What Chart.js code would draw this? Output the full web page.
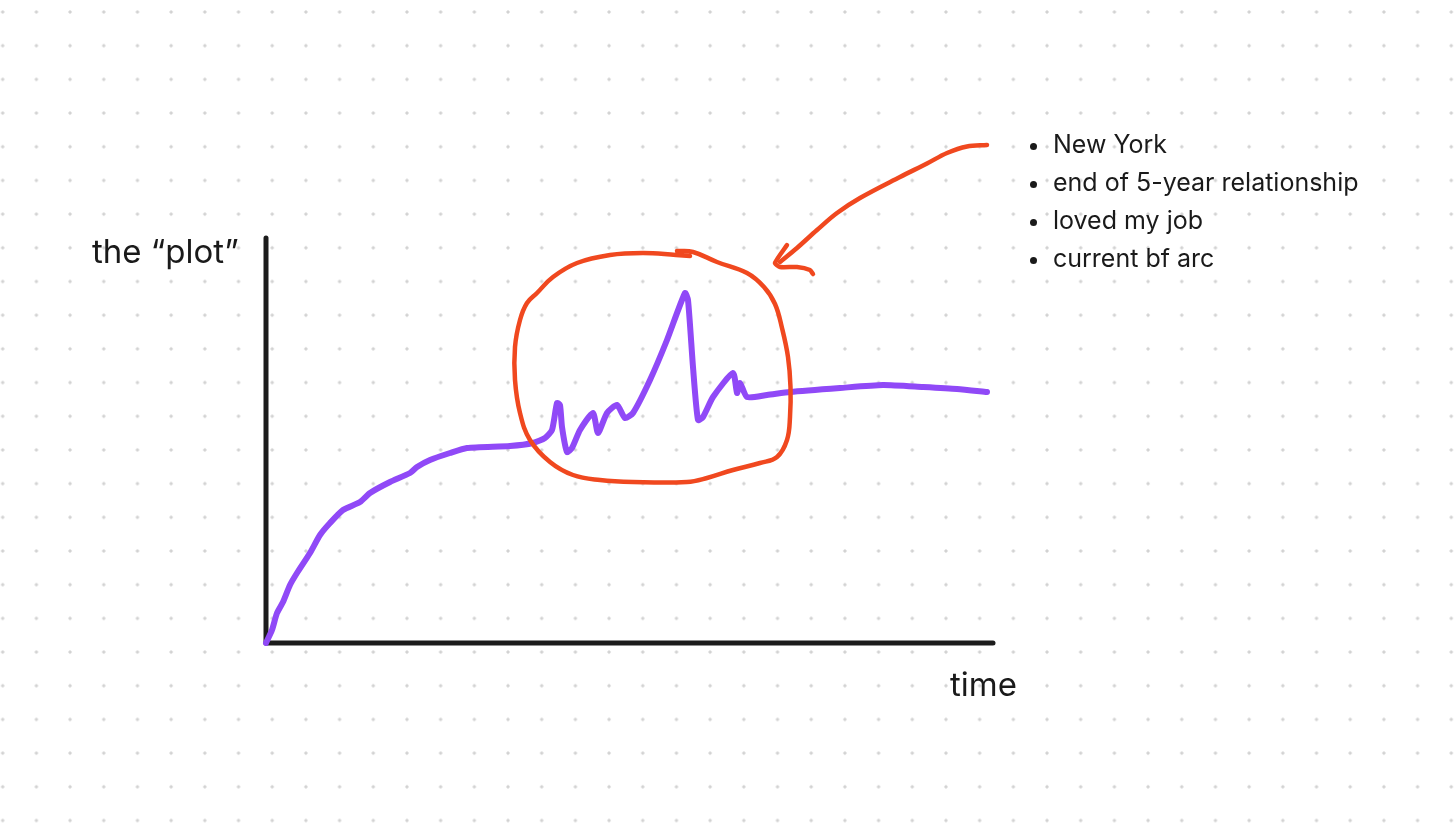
<!DOCTYPE html>
<html lang="en">
<head>
    <meta charset="UTF-8">
    <title>the plot</title>
    <script src="https://cdn.jsdelivr.net/npm/chart.js"></script>
    <style>
        body { margin: 0; background: #fff; }
        #wrap {
            position: relative;
            width: 1456px;
            height: 829px;
            background-color: #fff;
            background-image: radial-gradient(circle, #d2d2d2 1.3px, rgba(255,255,255,0) 1.9px);
            background-size: 33.7px 33.7px;
            background-position: -14.15px -4.85px;
            font-family: Inter, "Noto Sans", sans-serif;
            color: #1a1a1a;
        }
        canvas { position: absolute; left: 0; top: 0; }
        .lbl { position: absolute; white-space: nowrap; line-height: 1; }
        .yTitle { left: 92px; top: 235px; font-size: 33px; }
        .xTitle { left: 950px; top: 668px; font-size: 33px; }
        .note { left: 1053px; font-size: 25px; }
        .note::before {
            content: "";
            position: absolute;
            left: -23px;
            top: 11px;
            width: 7px;
            height: 7px;
            border-radius: 50%;
            background: #1a1a1a;
        }
    </style>
</head>
<body>
<div id="wrap">
    <canvas id="plotChart"></canvas>
    <div class="lbl yTitle">the “plot”</div>
    <div class="lbl xTitle">time</div>
    <div id="notes"></div>
</div>

<script>
    // life so far: time on x, "plot" on y (origin at the axes corner)
    const timeVals = [0, 0.6, 1.1, 1.7, 2.4, 3.1, 4.4, 5.4, 6.4, 7.7, 9.4, 10.4, 12.4, 14.4, 15.1, 16.4, 18.4, 20.1,
        24.4, 26.7, 27.9, 28.6, 29.1, 29.4, 29.6, 30.1, 30.6, 31.4, 32.7, 33.2, 34.1, 35.1, 35.9, 36.7,
        38.4, 40.1, 41.9, 42.2, 42.7, 43.2, 43.7, 44.7, 46.7, 47.1, 47.4, 48.1, 50.1, 52.4, 57.4, 61.7, 65.7, 69.1, 72.1];
    const plotVals = [0, 1.3, 3.0, 4.1, 5.8, 7.0, 9.0, 10.8, 12.0, 13.3, 14.1, 15.0, 16.1, 17.0, 17.6, 18.3, 19.0, 19.5,
        19.7, 20.0, 20.5, 21.3, 24.0, 23.8, 21.6, 19.1, 19.5, 21.3, 23.0, 21.0, 23.0, 23.8, 22.5, 23.0,
        26.3, 30.3, 35.0, 34.3, 27.6, 22.3, 22.6, 24.6, 27.0, 25.0, 26.0, 24.6, 24.8, 25.1, 25.5, 25.8, 25.6, 25.4, 25.1];

    // the red circle round the New York years
    const circleX = [41.1, 42.7, 45.1, 48.1, 49.8, 50.9, 51.6, 52.2, 52.45, 52.4, 52.1, 51.1, 49.4, 46.7, 44.1, 42.1,
        36.7, 33.4, 30.7, 28.4, 26.4, 25.4, 24.9, 24.9, 25.4, 26.1, 27.1, 28.7, 31.1, 34.4, 37.7, 41.0, 42.4];
    const circleY = [39.2, 39.1, 38.1, 37.0, 35.6, 33.9, 31.5, 28.6, 25.6, 22.6, 20.3, 18.6, 18.0, 17.3, 16.5, 16.1,
        16.1, 16.3, 16.8, 18.1, 20.3, 23.0, 26.3, 29.6, 32.3, 34.0, 35.0, 36.6, 38.0, 38.8, 39.0, 38.8, 38.7];

    // arrow from the notes to the circle
    const arrowX = [72.1, 70.1, 68.1, 66.1, 63.4, 59.4, 57.1, 55.1, 53.1, 51.4];
    const arrowY = [49.8, 49.65, 49.0, 47.95, 46.6, 44.5, 43.0, 41.3, 39.5, 38.1];
    const headX = [52.1, 50.9, 51.4, 53.1, 54.4, 54.7];
    const headY = [39.8, 38.0, 37.6, 37.6, 37.3, 36.9];

    // axes
    const axisX = [0, 72.7];
    const axisTop = 40.5;

    const notes = ['New York', 'end of 5-year relationship', 'loved my job', 'current bf arc'];

    const notesEl = document.getElementById('notes');
    notes.forEach((t, i) => {
        const d = document.createElement('div');
        d.className = 'lbl note';
        d.style.top = (132 + i * 38) + 'px';
        d.textContent = t;
        notesEl.appendChild(d);
    });

    const pts = (xs, ys) => xs.map((x, i) => ({ x: x, y: ys[i] }));

    const stroke = (data, color, width, tension, order) => ({
        data: data,
        showLine: true,
        borderColor: color,
        borderWidth: width,
        borderCapStyle: 'round',
        borderJoinStyle: 'round',
        pointRadius: 0,
        pointHoverRadius: 0,
        tension: tension,
        clip: false,
        order: order
    });

    const ctx = document.getElementById('plotChart').getContext('2d');
    new Chart(ctx, {
        type: 'scatter',
        data: {
            datasets: [
                stroke(pts(arrowX, arrowY), '#f0481f', 4.5, 0.35, 1),
                stroke(pts(headX, headY), '#f0481f', 4.5, 0.2, 1),
                stroke(pts(circleX, circleY), '#f0481f', 4.5, 0.4, 2),
                stroke(pts(timeVals, plotVals), '#9049f7', 6, 0.2, 3),
                stroke([{ x: axisX[0], y: 0 }, { x: axisX[1], y: 0 }], '#1c1c1c', 5, 0, 4),
                stroke([{ x: 0, y: 0 }, { x: 0, y: axisTop }], '#1c1c1c', 5, 0, 4)
            ]
        },
        options: {
            responsive: true,
            maintainAspectRatio: false,
            animation: false,
            events: [],
            layout: { padding: 0 },
            plugins: { legend: { display: false }, tooltip: { enabled: false } },
            scales: {
                x: { type: 'linear', min: -26.6, max: 119, display: false },
                y: { type: 'linear', min: -18.6, max: 64.3, display: false }
            }
        }
    });
</script>
</body>
</html>
